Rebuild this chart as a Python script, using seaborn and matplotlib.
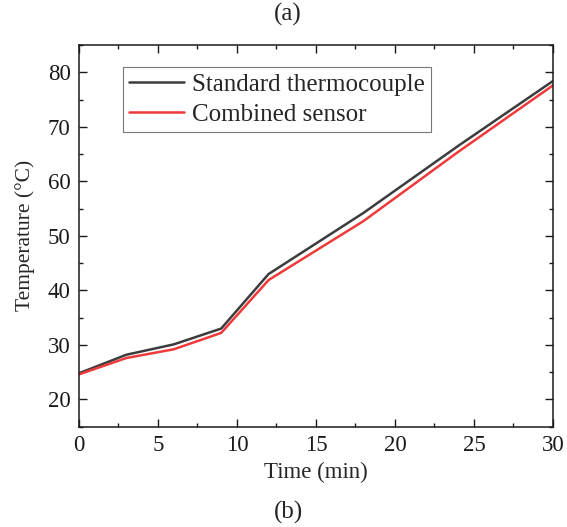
import matplotlib
matplotlib.use("Agg")
import matplotlib.pyplot as plt
import seaborn as sns
import pandas as pd
from matplotlib.ticker import MultipleLocator

time_min = [0, 3, 6, 9, 12, 18, 24, 30]
standard = [24.8, 28.2, 30.1, 33.0, 43.0, 54.2, 66.5, 78.4]
combined = [24.6, 27.6, 29.2, 32.2, 41.9, 52.7, 65.4, 77.6]
series_names = ["Standard thermocouple", "Combined sensor"]

df = pd.DataFrame({
    "Time": time_min * 2,
    "Temperature": standard + combined,
    "Series": [series_names[0]] * len(time_min) + [series_names[1]] * len(time_min),
})

sns.set_theme(style="ticks")
plt.rcParams["font.family"] = ["Liberation Serif", "DejaVu Serif"]

fig = plt.figure(figsize=(5.67, 5.27), dpi=100)
ax = fig.add_axes([0.1393, 0.1903, 0.9753 - 0.1393, 0.9146 - 0.1903])

sns.lineplot(data=df, x="Time", y="Temperature", hue="Series", ax=ax,
             palette=["#3c3c3c", "#ee3a3a"], linewidth=1.8, legend=True)

ax.set_xlim(0, 30)
ax.set_ylim(15, 85)
ax.xaxis.set_major_locator(MultipleLocator(5))
ax.xaxis.set_minor_locator(MultipleLocator(2.5))
ax.set_yticks([20, 30, 40, 50, 60, 70, 80])
ax.yaxis.set_minor_locator(MultipleLocator(5))
ax.tick_params(which="both", direction="in", top=True, right=True, labelsize=16.5, colors="#1a1a1a", width=1)
ax.tick_params(which="major", length=6, pad=6)
ax.tick_params(which="minor", length=3)
for s in ax.spines.values():
    s.set_linewidth(1.1)
    s.set_color("#1a1a1a")

ax.set_xlabel("Time (min)", fontsize=16.5, labelpad=4)
ax.set_ylabel("Temperature (°C)", fontsize=15.5, labelpad=9)

leg = ax.legend(loc="upper left", bbox_to_anchor=(0.093, 0.942), fontsize=18,
                frameon=True, fancybox=False, edgecolor="#555555", handlelength=2.2,
                borderpad=0.25, labelspacing=0.3, handletextpad=0.3, borderaxespad=0)
leg.get_frame().set_linewidth(0.8)

fig.text(0.508, 0.972, "(a)", ha="center", va="center", fontsize=18)
fig.text(0.508, 0.028, "(b)", ha="center", va="center", fontsize=18)

fig.savefig("out.png", dpi=100)
